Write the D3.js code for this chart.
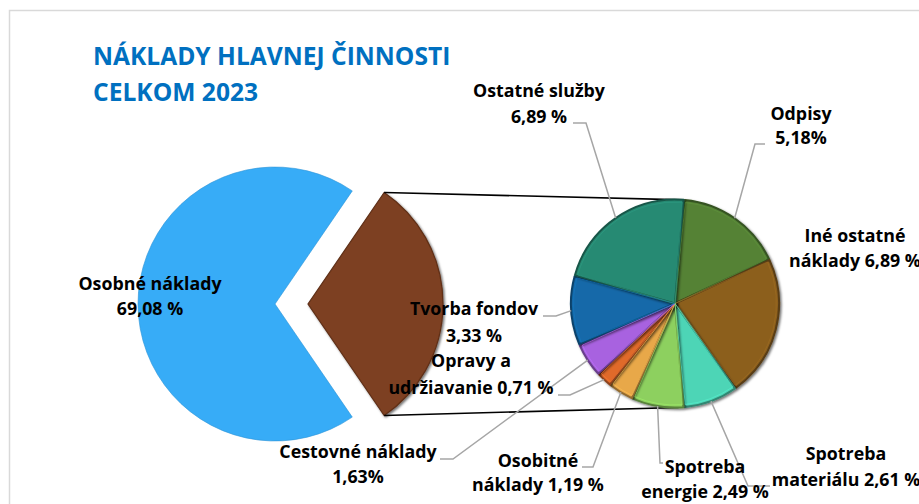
<!DOCTYPE html>
<html>
<head>
<meta charset="utf-8">
<script src="https://cdn.jsdelivr.net/npm/d3@7"></script>
<style>
  html, body { margin: 0; padding: 0; background: #fff; }
  svg { display: block; }
  text { font-family: "Open Sans", "Noto Sans", sans-serif; font-weight: 700; }
</style>
</head>
<body>
<svg id="chart" width="919" height="504"></svg>
<script>
// ---------- DATA ----------
const titleLines = ["NÁKLADY HLAVNEJ ČINNOSTI", "CELKOM 2023"];

const mainCategories = ["Osobné náklady"];
const mainValues = [69.08];
const mainLabels = [["Osobné náklady", "69,08 %"]];

const subCategories = [
  "Odpisy", "Iné ostatné náklady", "Spotreba materiálu", "Spotreba energie",
  "Osobitné náklady", "Opravy a udržiavanie", "Cestovné náklady",
  "Tvorba fondov", "Ostatné služby"
];
const subValues = [5.18, 6.89, 2.61, 2.49, 1.19, 0.71, 1.63, 3.33, 6.89];
const subLabels = [
  ["Odpisy", "5,18%"],
  ["Iné ostatné", "náklady 6,89 %"],
  ["Spotreba", "materiálu 2,61 %"],
  ["Spotreba", "energie 2,49 %"],
  ["Osobitné", "náklady 1,19 %"],
  ["Opravy a", "udržiavanie 0,71 %"],
  ["Cestovné náklady", "1,63%"],
  ["Tvorba fondov", "3,33 %"],
  ["Ostatné služby", "6,89 %"]
];

// ---------- STYLE / LAYOUT ----------
const mainColors = ["#37ACF7", "#7D3F20"];
const subColors = ["#548235", "#8C5F1F", "#4DD5B6", "#8DD05E", "#E8A84A",
                   "#E06A2C", "#A862E0", "#1269A9", "#288A73"];

const mainGeom = { cx: 275, cy: 304, r: 137, rOther: 135, explode: 33 };
const subGeom = { cx: 675, cy: 303.5, r: 104, startDeg: 5 };
const connectorDeg = [5, 178];

const mainLabelPos = [{ x: 150, y: 290, gap: 25 }];
// label centre x, first baseline, line gap, leader elbow & end (null = no leader)
const subLabelPos = [
  { x: 801, y: 120, gap: 24, elbow: [755, 144], end: [765, 144] },
  { x: 855, y: 242, gap: 25, elbow: null },
  { x: 846, y: 460, gap: 26, elbow: [748, 486], end: [770, 486] },
  { x: 705, y: 473, gap: 25, elbow: [660, 463], end: [663, 463] },
  { x: 538, y: 467, gap: 24, elbow: [593, 467], end: [582, 467] },
  { x: 471, y: 367, gap: 27, elbow: [570, 395], end: [558, 395] },
  { x: 358, y: 458, gap: 25, elbow: [453, 459], end: [440, 459] },
  { x: 474, y: 315, gap: 27, elbow: [556, 316], end: [543, 316] },
  { x: 539, y: 97, gap: 26, elbow: [586, 123], end: [573, 123] }
];

const svg = d3.select("#chart");
const defs = svg.append("defs");

const shadow = defs.append("filter").attr("id", "shadow")
  .attr("x", "-20%").attr("y", "-20%").attr("width", "140%").attr("height", "140%");
shadow.append("feDropShadow").attr("dx", 1.5).attr("dy", 1.5)
  .attr("stdDeviation", 1.3).attr("flood-color", "#000").attr("flood-opacity", 0.55);

// chart border
svg.append("rect").attr("x", 9.5).attr("y", 10.5).attr("width", 960).attr("height", 560)
  .attr("fill", "none").attr("stroke", "#D9D9D9").attr("stroke-width", 1.5);

// title
const title = svg.append("text").attr("fill", "#0070C0").attr("font-size", 24.6);
titleLines.forEach((t, i) => {
  title.append("tspan").attr("x", 93).attr("y", 65 + i * 36).text(t);
});

// ---------- MAIN PIE ----------
const otherValue = d3.sum(subValues);
const mainData = mainValues.concat([otherValue]);
const total = d3.sum(mainData);
const a0 = Math.PI / 2 + Math.PI * (otherValue / total);
const mainPie = d3.pie().sort(null).startAngle(a0).endAngle(a0 + 2 * Math.PI);
const mainArcs = mainPie(mainData);

const gMain = svg.append("g").attr("transform", `translate(${mainGeom.cx},${mainGeom.cy})`);
// primary slice
gMain.append("path")
  .attr("d", d3.arc().innerRadius(0).outerRadius(mainGeom.r)(mainArcs[0]))
  .attr("fill", mainColors[0]).attr("stroke", "#2D93D6").attr("stroke-width", 0.6);

// exploded "other" slice
const o = mainArcs[1];
const oMid = (o.startAngle + o.endAngle) / 2;
const ex = Math.sin(oMid) * mainGeom.explode, ey = -Math.cos(oMid) * mainGeom.explode;
gMain.append("path")
  .attr("transform", `translate(${ex},${ey})`)
  .attr("d", d3.arc().innerRadius(0).outerRadius(mainGeom.rOther)(o))
  .attr("fill", mainColors[1])
  .attr("stroke", d3.color(mainColors[1]).darker(0.8)).attr("stroke-width", 1.2)
  .attr("filter", "url(#shadow)");

// connector lines
const oTop = [mainGeom.cx + ex + Math.sin(o.startAngle) * mainGeom.rOther,
              mainGeom.cy + ey - Math.cos(o.startAngle) * mainGeom.rOther];
const oBot = [mainGeom.cx + ex + Math.sin(o.endAngle) * mainGeom.rOther,
              mainGeom.cy + ey - Math.cos(o.endAngle) * mainGeom.rOther];
const subPt = (deg, rr) => {
  const a = deg * Math.PI / 180;
  return [subGeom.cx + Math.sin(a) * rr, subGeom.cy - Math.cos(a) * rr];
};
[[oTop, subPt(connectorDeg[0], subGeom.r)], [oBot, subPt(connectorDeg[1], subGeom.r)]]
  .forEach(([p, q]) => {
    svg.append("line").attr("x1", p[0]).attr("y1", p[1]).attr("x2", q[0]).attr("y2", q[1])
      .attr("stroke", "#000").attr("stroke-width", 1.6);
  });

// ---------- SECONDARY PIE ----------
const s0 = subGeom.startDeg * Math.PI / 180;
const subPie = d3.pie().sort(null).startAngle(s0).endAngle(s0 + 2 * Math.PI).padAngle(0.012);
const subArcs = subPie(subValues);
const subArc = d3.arc().innerRadius(0).outerRadius(subGeom.r);
const gSub = svg.append("g").attr("transform", `translate(${subGeom.cx},${subGeom.cy})`);

gSub.selectAll("path.slice").data(subArcs).join("path")
  .attr("class", "slice")
  .attr("d", subArc)
  .attr("fill", (d, i) => subColors[i])
  .attr("stroke", (d, i) => d3.color(subColors[i]).darker(1.3))
  .attr("stroke-width", 2)
  .attr("stroke-linejoin", "round")
  .attr("filter", "url(#shadow)");
// light inner rim highlight
gSub.selectAll("path.hl").data(subArcs).join("path")
  .attr("class", "hl")
  .attr("d", d3.arc().innerRadius(0).outerRadius(subGeom.r - 2.5).padAngle(0.03))
  .attr("fill", "none")
  .attr("stroke", (d, i) => d3.color(subColors[i]).brighter(0.35))
  .attr("stroke-width", 0.8).attr("opacity", 0.8);

// ---------- LEADER LINES ----------
subArcs.forEach((d, i) => {
  const L = subLabelPos[i];
  if (!L.elbow) return;
  const mid = (d.startAngle + d.endAngle) / 2;
  const p = [subGeom.cx + Math.sin(mid) * subGeom.r, subGeom.cy - Math.cos(mid) * subGeom.r];
  svg.append("polyline")
    .attr("points", [p, L.elbow, L.end].map(q => q.join(",")).join(" "))
    .attr("fill", "none").attr("stroke", "#A6A6A6").attr("stroke-width", 1.5);
});

// ---------- LABELS ----------
function drawLabel(lines, pos) {
  const t = svg.append("text").attr("text-anchor", "middle")
    .attr("font-size", 17.8).attr("fill", "#000");
  lines.forEach((s, k) => {
    t.append("tspan").attr("x", pos.x).attr("y", pos.y + k * pos.gap).text(s);
  });
}
mainLabels.forEach((l, i) => drawLabel(l, mainLabelPos[i]));
subLabels.forEach((l, i) => drawLabel(l, subLabelPos[i]));
</script>
</body>
</html>
